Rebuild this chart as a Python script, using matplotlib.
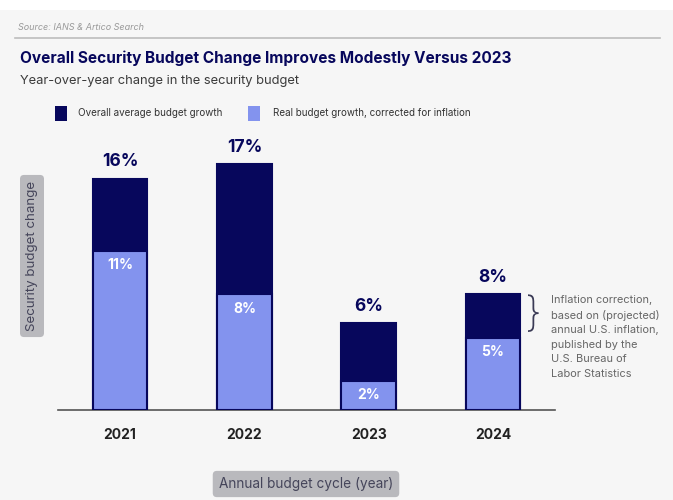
import numpy as np
import matplotlib
matplotlib.use("Agg")
import matplotlib.pyplot as plt
from matplotlib.patches import Rectangle

years = ["2021", "2022", "2023", "2024"]
overall = [16, 17, 6, 8]
real = [11, 8, 2, 5]

navy = "#07075c"
light = "#8393ee"
bg = "#f6f6f6"

plt.rcParams["font.family"] = ["Inter", "DejaVu Sans"]

W, H = 673, 500
fig = plt.figure(figsize=(W / 100, H / 100), dpi=100, facecolor=bg)

def fx(px):
    return px / W

def fy(py):
    return 1 - py / H

# white strip on top
fig.patches.append(Rectangle((0, fy(10)), 1, 10 / H, transform=fig.transFigure,
                             facecolor="white", edgecolor="none", zorder=0))

fig.text(fx(18), fy(27), "Source: IANS & Artico Search", fontsize=6.5, style="italic",
         color="#9a9a9a", va="center")
fig.add_artist(plt.Line2D([fx(15), fx(660)], [fy(38), fy(38)], color="#bdbdbd", lw=1.2,
                          transform=fig.transFigure))
fig.text(fx(20), fy(58), "Overall Security Budget Change Improves Modestly Versus 2023",
         fontsize=11.1, fontweight="bold", color=navy, va="center")
fig.text(fx(20), fy(81), "Year-over-year change in the security budget",
         fontsize=9.3, color="#3c3c3c", va="center")

# legend
fig.patches.append(Rectangle((fx(55), fy(121)), 12 / W, 15 / H, transform=fig.transFigure,
                             facecolor=navy, edgecolor="none"))
fig.text(fx(78), fy(113), "Overall average budget growth", fontsize=7.1, color="#333333", va="center")
fig.patches.append(Rectangle((fx(248), fy(121)), 12 / W, 15 / H, transform=fig.transFigure,
                             facecolor=light, edgecolor="none"))
fig.text(fx(273), fy(113), "Real budget growth, corrected for inflation", fontsize=7.1,
         color="#333333", va="center")

ax = fig.add_axes([fx(58), fy(410), (555 - 58) / W, (410 - 121) / H])
ax.set_facecolor("none")
x = np.arange(len(years))
w = 0.44
ax.bar(x, overall, width=w, color=navy, edgecolor=navy, linewidth=1.5, zorder=2)
ax.bar(x, real, width=w, color=light, edgecolor=navy, linewidth=1.5, zorder=3)
for xi, o, r in zip(x, overall, real):
    ax.text(xi, o + 0.6, f"{o}%", ha="center", va="bottom", fontsize=12.5,
            fontweight="bold", color=navy)
    ax.text(xi, r - 0.5, f"{r}%", ha="center", va="top", fontsize=10,
            fontweight="bold", color="white", zorder=4)

ax.set_xlim(-0.5, 3.5)
ax.set_ylim(0, 20)
ax.set_xticks(x)
ax.set_xticklabels(years, fontsize=10, fontweight="bold", color="#222222")
ax.tick_params(axis="x", length=0, pad=13)
ax.set_yticks([])
for s in ["top", "right", "left"]:
    ax.spines[s].set_visible(False)
ax.spines["bottom"].set_color("#555555")
ax.spines["bottom"].set_linewidth(1.2)

# brace annotation
fig.text(fx(534), fy(315), "}", fontsize=30, color="#3a3a55", ha="center", va="center",
         fontweight="light")
fig.text(fx(551), fy(295), "Inflation correction,\nbased on (projected)\nannual U.S. inflation,\n"
         "published by the\nU.S. Bureau of\nLabor Statistics",
         fontsize=7.9, color="#666666", va="top", ha="left", linespacing=1.55)

# axis label boxes
fig.text(fx(32), fy(256), "Security budget change", rotation=90, fontsize=9.6,
         color="#45455a", ha="center", va="center",
         bbox=dict(boxstyle="round,pad=0.45,rounding_size=0.3", fc="#b9b9bd", ec="none"))
fig.text(fx(306), fy(484), "Annual budget cycle (year)", fontsize=9.8,
         color="#45455a", ha="center", va="center",
         bbox=dict(boxstyle="round,pad=0.45,rounding_size=0.3", fc="#b9b9bd", ec="none"))

fig.savefig("out.png", dpi=100, facecolor=bg)
